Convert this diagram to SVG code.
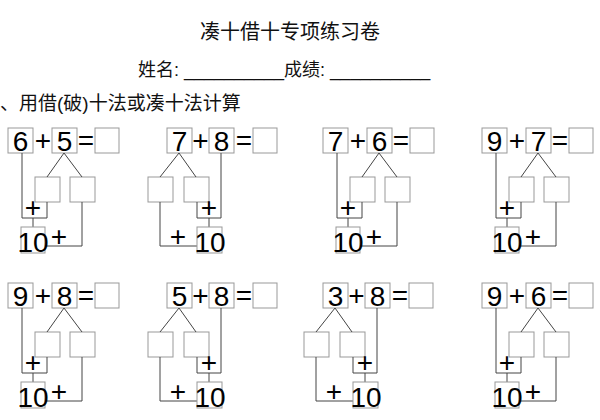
<svg xmlns="http://www.w3.org/2000/svg" xmlns:xlink="http://www.w3.org/1999/xlink" width="600" height="420" viewBox="0 0 600 420">
<style>
.bx{fill:#fff;stroke:#999;stroke-width:1}
.ln{fill:none;stroke:#444;stroke-width:1}
.d{font-family:"Liberation Sans",Arial,sans-serif;font-size:28px;fill:#000;text-anchor:middle}
.t{font-family:"Liberation Sans","Noto Sans CJK SC",sans-serif;fill:#111}
</style>
<defs>
<g id="A">
<rect class="bx" x="0" y="0" width="25" height="25"/>
<rect class="bx" x="44" y="0" width="25" height="25"/>
<rect class="bx" x="87" y="0" width="24" height="25"/>
<text class="d" x="35" y="22">+</text>
<text class="d" x="78" y="22">=</text>
<rect class="bx" x="27" y="49" width="25" height="25"/>
<rect class="bx" x="62" y="49" width="25" height="25"/>
<path class="ln" d="M56,25 L39,49 M56,25 L74,49 M14,25 V90 H39 V74 M25,90 V99 M37,118 H74 V74"/>
<text class="d" x="25" y="89">+</text>
<rect class="bx" x="13" y="99" width="24" height="26"/>
<text class="d" x="25" y="124">10</text>
<text class="d" x="51" y="118">+</text>
</g>
<g id="B">
<rect class="bx" x="0" y="0" width="25" height="25"/>
<rect class="bx" x="42" y="0" width="25" height="25"/>
<rect class="bx" x="86" y="0" width="24" height="25"/>
<text class="d" x="33.5" y="22">+</text>
<text class="d" x="77" y="22">=</text>
<rect class="bx" x="-19" y="49" width="25" height="25"/>
<rect class="bx" x="17" y="49" width="25" height="25"/>
<path class="ln" d="M12,25 L-7,49 M12,25 L29,49 M54,25 V90 H30 V74 M42,90 V99 M-7,74 V118 H30"/>
<text class="d" x="42" y="89">+</text>
<rect class="bx" x="30" y="99" width="25" height="26"/>
<text class="d" x="43" y="124">10</text>
<text class="d" x="11" y="118">+</text>
</g>
</defs>
<text class="t" x="290" y="39" font-size="20" text-anchor="middle">凑十借十专项练习卷</text>
<text class="t" x="138" y="76" font-size="18">姓名: __________成绩: __________</text>
<text class="t" x="0" y="110" font-size="19">、用借(破)十法或凑十法计算</text>
<g id="connectors"></g>
<g id="p1" transform="translate(8,128)"><use xlink:href="#A"/><text class="d" x="12.5" y="23">6</text><text class="d" x="56.5" y="23">5</text></g>
<g id="p2" transform="translate(167,128)"><use xlink:href="#B"/><text class="d" x="12.5" y="23">7</text><text class="d" x="54.5" y="23">8</text></g>
<g id="p3" transform="translate(323,128)"><use xlink:href="#A"/><text class="d" x="12.5" y="23">7</text><text class="d" x="56.5" y="23">6</text></g>
<g id="p4" transform="translate(482,128)"><use xlink:href="#A"/><text class="d" x="12.5" y="23">9</text><text class="d" x="56.5" y="23">7</text></g>
<g id="p5" transform="translate(8,283)"><use xlink:href="#A"/><text class="d" x="12.5" y="23">9</text><text class="d" x="56.5" y="23">8</text></g>
<g id="p6" transform="translate(167,283)"><use xlink:href="#B"/><text class="d" x="12.5" y="23">5</text><text class="d" x="54.5" y="23">8</text></g>
<g id="p7" transform="translate(323,283)"><use xlink:href="#B"/><text class="d" x="12.5" y="23">3</text><text class="d" x="54.5" y="23">8</text></g>
<g id="p8" transform="translate(482,283)"><use xlink:href="#A"/><text class="d" x="12.5" y="23">9</text><text class="d" x="56.5" y="23">6</text></g>
</svg>
